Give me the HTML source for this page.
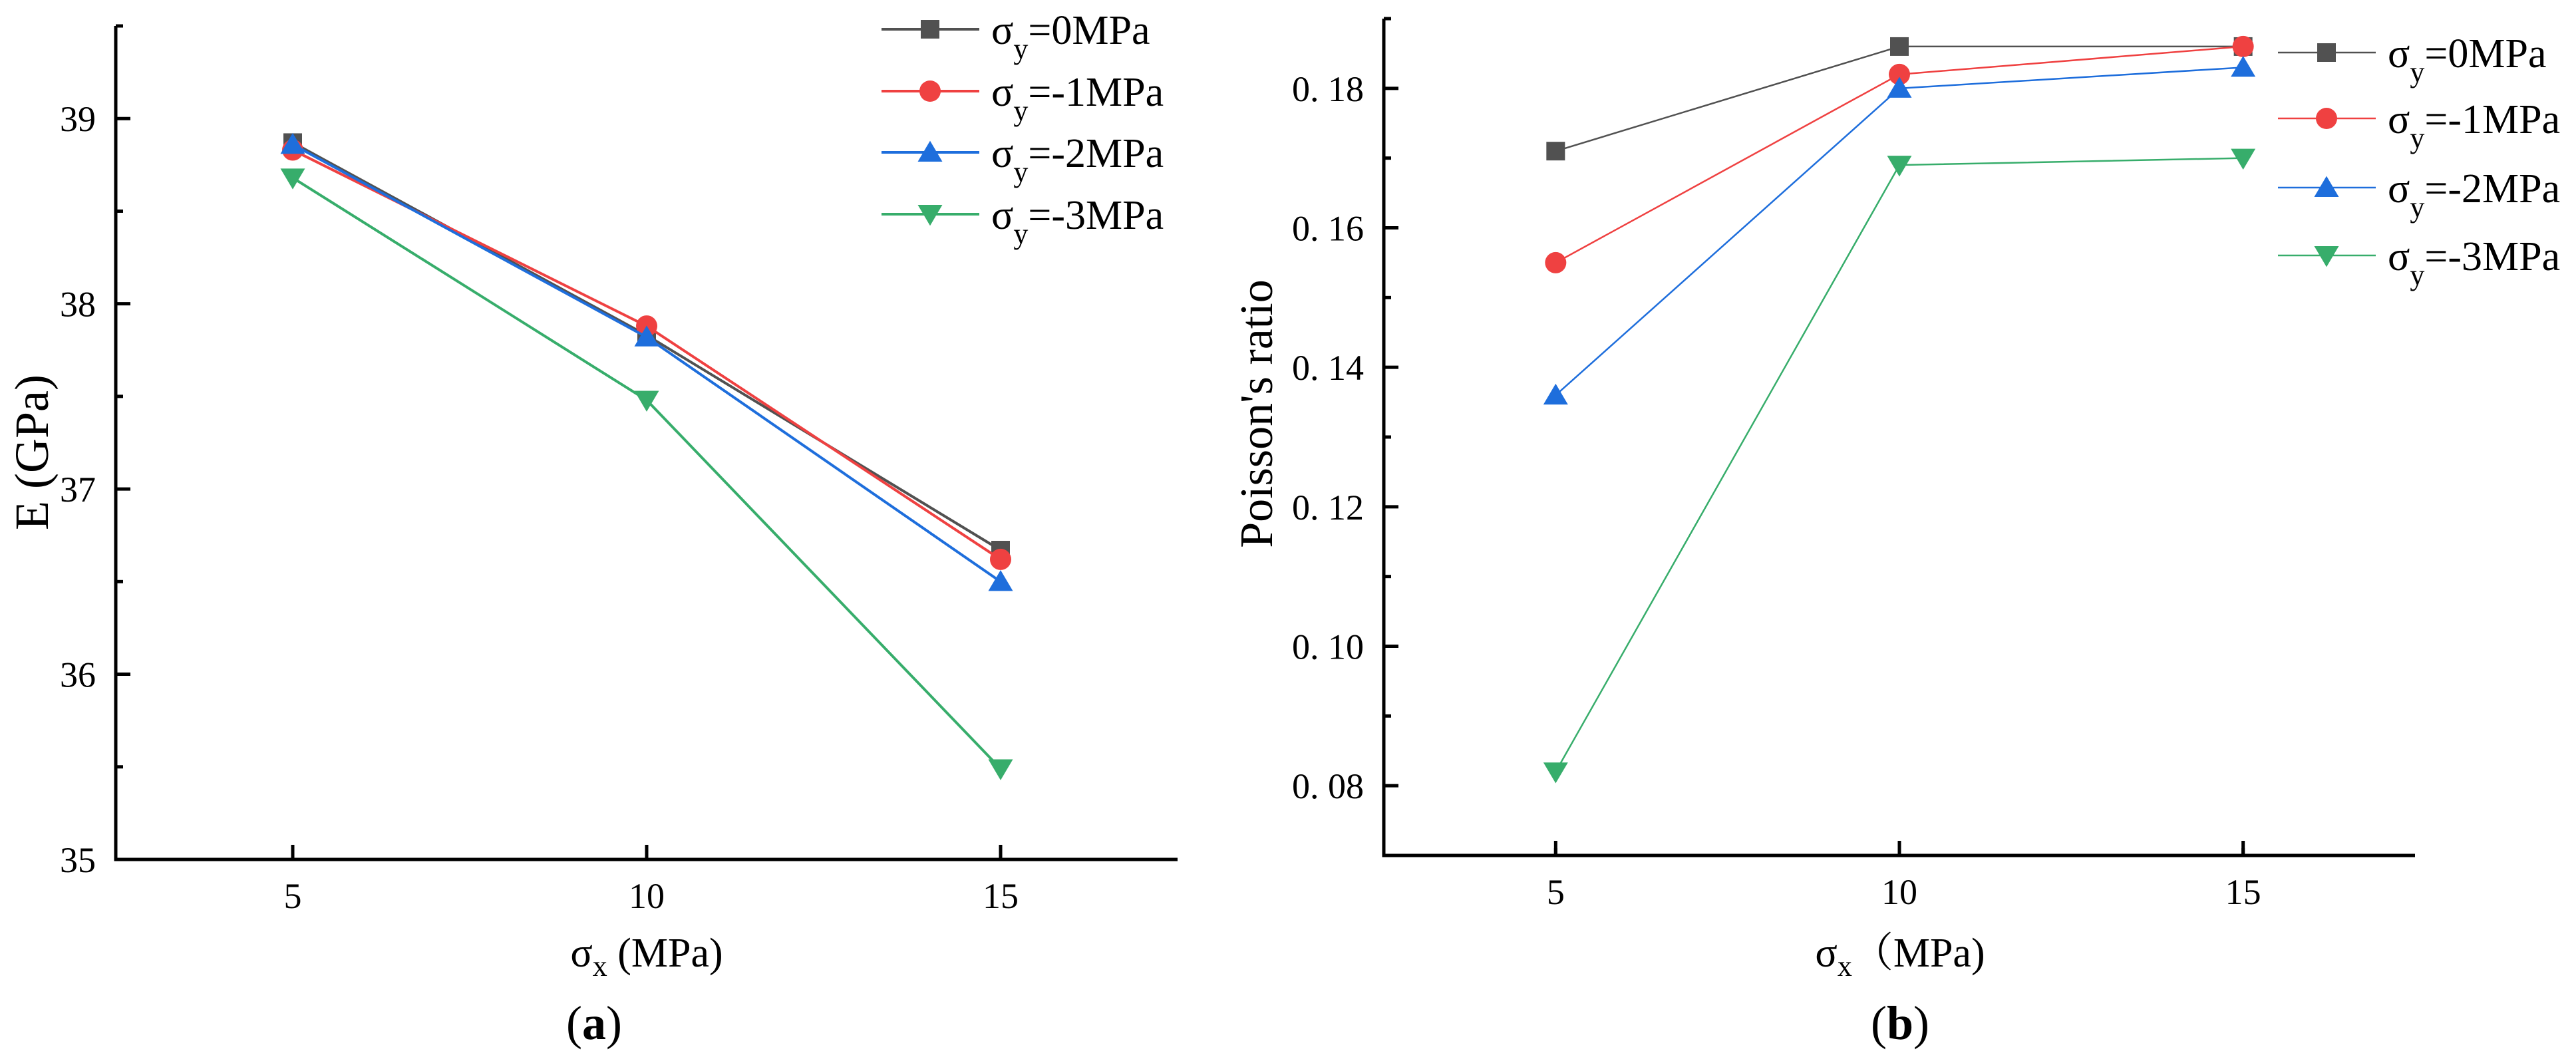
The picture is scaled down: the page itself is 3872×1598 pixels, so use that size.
<!DOCTYPE html>
<html><head><meta charset="utf-8"><style>
html,body{margin:0;padding:0;background:#fff;}
svg{display:block;font-family:"Liberation Serif","Noto Serif CJK SC",serif;}
</style></head><body>
<svg id="fig" width="3872" height="1598" viewBox="0 0 3872 1598" xmlns="http://www.w3.org/2000/svg"></svg>
<script>
const xCats = [5, 10, 15];
const seriesNames = ["0MPa", "-1MPa", "-2MPa", "-3MPa"];
const eSeries0 = [38.87, 37.83, 36.67];
const eSeries1 = [38.83, 37.88, 36.62];
const eSeries2 = [38.86, 37.82, 36.50];
const eSeries3 = [38.68, 37.48, 35.49];
const pSeries0 = [0.171, 0.186, 0.186];
const pSeries1 = [0.155, 0.182, 0.186];
const pSeries2 = [0.136, 0.180, 0.183];
const pSeries3 = [0.082, 0.169, 0.170];
const eTicks = [35, 36, 37, 38, 39];
const eTickLabels = ["35", "36", "37", "38", "39"];
const pTicks = [0.08, 0.10, 0.12, 0.14, 0.16, 0.18];
const pTickLabels = ["0. 08", "0. 10", "0. 12", "0. 14", "0. 16", "0. 18"];
const xTickLabels = ["5", "10", "15"];

const colors = ["#515151", "#EF4141", "#1E6EDC", "#37AD6B"];
const markers = ["square", "circle", "up", "down"];
const NS = "http://www.w3.org/2000/svg";
const svg = document.getElementById("fig");
function mk(tag, attrs, parent) {
  const e = document.createElementNS(NS, tag);
  for (const k in attrs) e.setAttribute(k, attrs[k]);
  (parent || svg).appendChild(e);
  return e;
}
function marker(g, type, cx, cy, color, s) {
  let m;
  if (type === "square") m = mk("rect", {x: cx - s/2, y: cy - s/2, width: s, height: s, fill: color}, g);
  else if (type === "circle") m = mk("circle", {cx: cx, cy: cy, r: s/2 + 2, fill: color}, g);
  else if (type === "up") m = mk("polygon", {points: `${cx},${cy - s*0.62} ${cx - s*0.66},${cy + s*0.5} ${cx + s*0.66},${cy + s*0.5}`, fill: color}, g);
  else m = mk("polygon", {points: `${cx},${cy + s*0.62} ${cx - s*0.66},${cy - s*0.5} ${cx + s*0.66},${cy - s*0.5}`, fill: color}, g);
  return m;
}

function panel(cfg) {
  const g = mk("g", {});
  
  
  const xs = v => cfg.L + (v - cfg.xmin) / (cfg.xmax - cfg.xmin) * (cfg.R - cfg.L);
  const ys = v => cfg.B - (v - cfg.ymin) / (cfg.ymax - cfg.ymin) * (cfg.B - cfg.T);
  cfg.series.forEach((arr, i) => {
    const sg = mk("g", {}, g);
    
    
    const pts = arr.map((v, j) => xs(xCats[j]) + "," + ys(v)).join(" ");
    const pl = mk("polyline", {points: pts, fill: "none", stroke: colors[i], "stroke-width": cfg.lw}, sg);
    
    
    arr.forEach((v, j) => {
      const m = marker(sg, markers[i], xs(xCats[j]), ys(v), colors[i], 28);
      
      
    });
  });
  const ax = mk("g", {stroke: "#000", "stroke-width": 5, fill: "none"}, g);
  
  
  mk("line", {x1: cfg.L, y1: cfg.T, x2: cfg.L, y2: cfg.B + 2.5}, ax);
  mk("line", {x1: cfg.L - 2.5, y1: cfg.B, x2: cfg.R, y2: cfg.B}, ax);
  xCats.forEach((v, j) => {
    mk("line", {x1: xs(v), y1: cfg.B, x2: xs(v), y2: cfg.B - 22}, ax);
    const t = mk("text", {x: xs(v), y: cfg.B + 73, "text-anchor": "middle", "font-size": 54, fill: "#000", stroke: "none"}, g);
    t.textContent = xTickLabels[j];
    
    
  });
  for (let v = cfg.xmin + 2.5; v < cfg.xmax; v += 5) mk("line", {x1: xs(v), y1: cfg.B, x2: xs(v), y2: cfg.B - 11}, ax);
  cfg.yTicks.forEach((v, j) => {
    mk("line", {x1: cfg.L, y1: ys(v), x2: cfg.L + 22, y2: ys(v)}, ax);
    const t = mk("text", {x: cfg.L - 30, y: ys(v) + 19, "text-anchor": "end", "font-size": 54, fill: "#000", stroke: "none"}, g);
    t.textContent = cfg.yLabels[j];
    
    
  });
  cfg.minorY.forEach(v => mk("line", {x1: cfg.L, y1: ys(v), x2: cfg.L + 11, y2: ys(v)}, ax));
  const lg = mk("g", {}, g);
  
  
  seriesNames.forEach((n, i) => {
    const y = cfg.legY[i];
    const eg = mk("g", {}, lg);
    
    
    mk("line", {x1: cfg.legX, y1: y, x2: cfg.legX + 147, y2: y, stroke: colors[i], "stroke-width": cfg.legLw}, eg);
    marker(eg, markers[i], cfg.legX + 73, y, colors[i], 28);
    const t = mk("text", {x: cfg.legX + 165, y: y + 22, "font-size": 62, fill: "#000"}, eg);
    t.innerHTML = 'σ<tspan font-size="44" dy="22">y</tspan><tspan dy="-22">=' + n + '</tspan>';
  });
  return {xs, ys};
}

panel({name: "chart-a-modulus", L: 174, R: 1770, T: 39, B: 1292, xmin: 2.5, xmax: 17.5, ymin: 35, ymax: 39.5,
  series: [eSeries0, eSeries1, eSeries2, eSeries3], yTicks: eTicks, yLabels: eTickLabels,
  minorY: [35.5, 36.5, 37.5, 38.5, 39.5], lw: 4, legX: 1325, legY: [44, 137, 229, 322], legLw: 4});
panel({name: "chart-b-poisson", L: 2080, R: 3630, T: 28, B: 1286, xmin: 2.5, xmax: 17.5, ymin: 0.07, ymax: 0.19,
  series: [pSeries0, pSeries1, pSeries2, pSeries3], yTicks: pTicks, yLabels: pTickLabels,
  minorY: [0.09, 0.11, 0.13, 0.15, 0.17, 0.19], lw: 2.5, legX: 3424, legY: [79, 178, 282, 384], legLw: 2.5});

function txt(attrs, html, name) {
  const t = mk("text", attrs);
  t.innerHTML = html;
  
  
}
txt({x: 0, y: 0, "font-size": 72, "text-anchor": "middle", transform: "translate(72,680) rotate(-90)"}, "E (GPa)", "y-axis-title-a");
txt({x: 0, y: 0, "font-size": 70, "text-anchor": "middle", transform: "translate(1912,622) rotate(-90)"}, "Poisson's ratio", "y-axis-title-b");
txt({x: 972, y: 1453, "font-size": 62, "text-anchor": "middle"}, 'σ<tspan font-size="44" dy="14">x</tspan><tspan dy="-14"> (MPa)</tspan>', "x-axis-title-a");
txt({x: 2856, y: 1453, "font-size": 62, "text-anchor": "middle"}, 'σ<tspan font-size="44" dy="14">x</tspan><tspan dy="-14">（MPa)</tspan>', "x-axis-title-b");
txt({x: 893, y: 1562, "font-size": 72, "text-anchor": "middle"}, '(<tspan font-weight="bold">a</tspan>)', "panel-label-a");
txt({x: 2856, y: 1562, "font-size": 72, "text-anchor": "middle"}, '(<tspan font-weight="bold">b</tspan>)', "panel-label-b");
</script>
</body></html>
